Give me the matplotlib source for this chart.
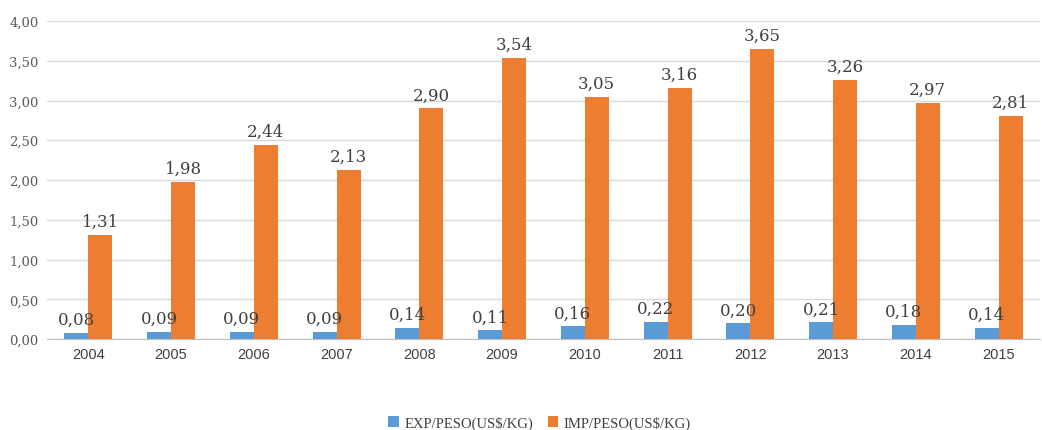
import numpy as np
import matplotlib.pyplot as plt

years = ['2004', '2005', '2006', '2007', '2008', '2009', '2010', '2011', '2012', '2013', '2014', '2015']
exp_peso = [0.08, 0.09, 0.09, 0.09, 0.14, 0.11, 0.16, 0.22, 0.20, 0.21, 0.18, 0.14]
imp_peso = [1.31, 1.98, 2.44, 2.13, 2.90, 3.54, 3.05, 3.16, 3.65, 3.26, 2.97, 2.81]
y_ticks = [0.0, 0.5, 1.0, 1.5, 2.0, 2.5, 3.0, 3.5, 4.0]

blue = '#5B9BD5'
orange = '#ED7D31'

fig = plt.figure(figsize=(10.42, 4.31), dpi=100)
ax = fig.add_axes([0.045, 0.211, 0.953, 0.738])

x = np.arange(len(years))
w = 0.29
b1 = ax.bar(x - w / 2, exp_peso, w, color=blue, label='EXP/PESO(US$/KG)', zorder=3)
b2 = ax.bar(x + w / 2, imp_peso, w, color=orange, label='IMP/PESO(US$/KG)', zorder=3)

# value labels
for bars, vals in ((b1, exp_peso), (b2, imp_peso)):
    for r, v in zip(bars, vals):
        ax.text(r.get_x() + r.get_width() / 2, v + 0.06, f'{v:.2f}'.replace('.', ','),
                ha='center', va='bottom', fontsize=12, family='DejaVu Serif', color='#404040')

ax.set_xlim(-0.5, len(years) - 0.5)
ax.set_ylim(0, 4.0)
ax.set_yticks(y_ticks)
ax.set_yticklabels([f'{t:.2f}'.replace('.', ',') for t in y_ticks],
                   family='DejaVu Serif', fontsize=9.5, color='#595959')
ax.set_xticks(x)
ax.set_xticklabels(years, family='Liberation Sans', fontsize=10.5, color='#404040')
ax.tick_params(length=0, pad=6)

ax.grid(axis='y', color='#D9D9D9', linewidth=1, zorder=0)
for s in ('top', 'right', 'left'):
    ax.spines[s].set_visible(False)
ax.spines['bottom'].set_color('#BFBFBF')

fig.legend(handles=[b1, b2], loc='center', bbox_to_anchor=(0.518, 0.017), ncol=2, frameon=False,
           prop={'family': 'Liberation Serif', 'size': 10.5}, handlelength=0.7, handleheight=0.7,
           handletextpad=0.4, columnspacing=1.0, labelcolor='#404040')

fig.savefig('out.png', dpi=100)
